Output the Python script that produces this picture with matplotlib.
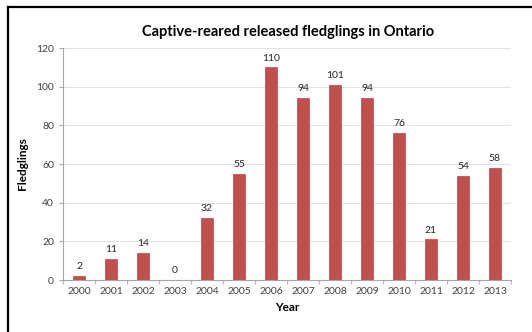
import matplotlib
matplotlib.use("Agg")
import matplotlib.pyplot as plt
from matplotlib.lines import Line2D

# released fledglings per year
years = ["2000", "2001", "2002", "2003", "2004", "2005", "2006",
         "2007", "2008", "2009", "2010", "2011", "2012", "2013"]
fledglings = [2, 11, 14, 0, 32, 55, 110, 94, 101, 94, 76, 21, 54, 58]
y_ticks = [0, 20, 40, 60, 80, 100, 120]

plt.rcParams['font.family'] = ['Lato', 'DejaVu Sans']

fig = plt.figure(figsize=(5.32, 3.32), dpi=100)
ax = fig.add_axes([0.1184, 0.1566, 0.842, 0.6988])

x = list(range(len(years)))
ax.bar(x, fledglings, width=0.4, color="#C0504D", edgecolor="#B84845",
       linewidth=0.5, zorder=3)
for xi, v in zip(x, fledglings):
    ax.text(xi, v + 2.5, str(v), ha="center", va="bottom", fontsize=7.5,
            color="#262626")

ax.set_xlim(-0.5, len(years) - 0.5)
ax.set_ylim(0, 120)
ax.set_yticks(y_ticks)
ax.set_xticks(x)
ax.set_xticklabels(years)
ax.tick_params(axis="x", length=0, labelsize=7.5, labelcolor="#404040", pad=5)
ax.tick_params(axis="y", length=3, color="#A6A6A6", labelsize=7.5,
               labelcolor="#404040")
# category separators below the axis
ax.set_xticks([i - 0.5 for i in range(len(years) + 1)], minor=True)
ax.tick_params(axis="x", which="minor", length=3, color="#A6A6A6")

ax.grid(axis="y", color="#E3E3E3", linewidth=0.8, zorder=0)
for s in ["top", "right"]:
    ax.spines[s].set_visible(False)
ax.spines["left"].set_color("#A6A6A6")
ax.spines["bottom"].set_color("#A6A6A6")

ax.set_xlabel("Year", fontsize=8.5, fontweight="bold", labelpad=4)
ax.set_ylabel("Fledglings", fontsize=8.5, fontweight="bold", labelpad=6)
fig.text(0.542, 0.905, "Captive-reared released fledglings in Ontario",
         ha="center", va="center", fontsize=10.5, fontweight="bold")

# frame on left and top edges
fig.add_artist(Line2D([0.0147, 0.0147], [0, 0.979], transform=fig.transFigure,
                      color="black", linewidth=1.6))
fig.add_artist(Line2D([0.0147, 1.0], [0.979, 0.979], transform=fig.transFigure,
                      color="black", linewidth=1.6))

fig.savefig("out.png", dpi=100)
